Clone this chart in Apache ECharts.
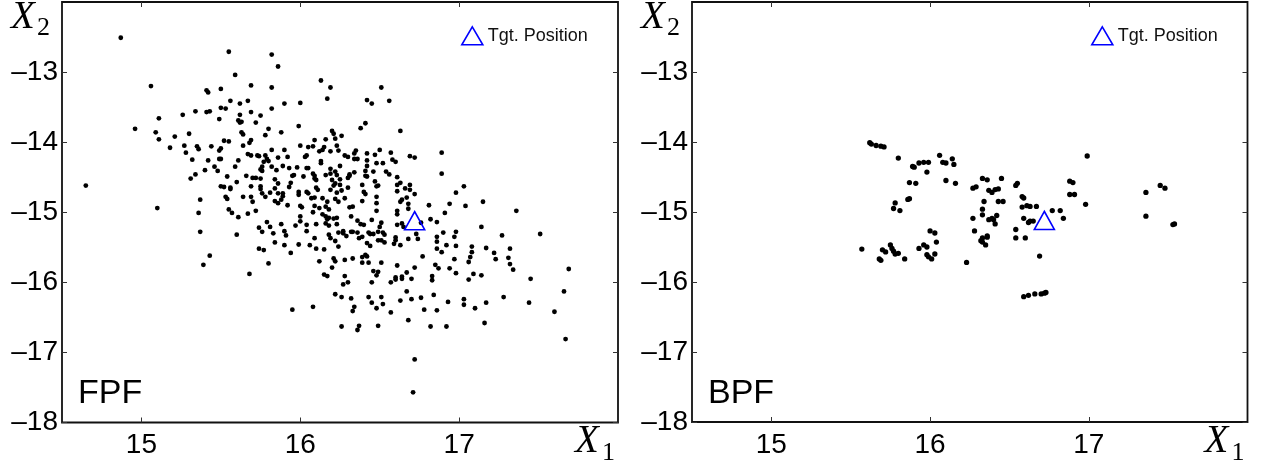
<!DOCTYPE html>
<html>
<head>
<meta charset="utf-8">
<title>FPF vs BPF particles</title>
<script src="https://cdn.jsdelivr.net/npm/echarts@6/dist/echarts.min.js"></script>
<style>
  html, body { margin: 0; padding: 0; background: #ffffff; }
  #chart { width: 1265px; height: 465px; }
</style>
</head>
<body>
<div id="chart"></div>
<script>
// ---- data -------------------------------------------------------------
const panelNames = ['FPF', 'BPF'];
const xRange = [14.5, 18];
const yRange = [-18, -12];
const xTicks = [15, 16, 17];
const yTicks = [-18, -17, -16, -15, -14, -13];
const targetName = 'Tgt. Position';
const targetPosition = [16.72, -15.12];

// forward particle filter cloud (X1, X2)
const fpfParticles = [
  [14.87,-12.51],[15.55,-12.71],[15.82,-12.75],[14.65,-14.62],[16.71,-17.57],
  [15.86,-12.92],[15.59,-13.04],[16.13,-13.12],[15.06,-13.20],[15.41,-13.26],[15.42,-13.29],[15.50,-13.24],[15.69,-13.19],[15.82,-13.22],[16.19,-13.22],
  [16.17,-13.38],[16.42,-13.40],[16.45,-13.45],[15.56,-13.41],[15.62,-13.45],[15.67,-13.41],[15.90,-13.45],[16.00,-13.44],[15.50,-13.51],[15.53,-13.52],
  [15.34,-13.56],[15.41,-13.57],[15.43,-13.56],[15.26,-13.61],[15.69,-13.57],[15.82,-13.52],[15.62,-13.61],[15.75,-13.62],[15.11,-13.66],[15.49,-13.67],
  [15.61,-13.69],[15.62,-13.72],[15.63,-13.71],[15.72,-13.72],[15.99,-13.77],[16.41,-13.73],[16.38,-13.80],[14.96,-13.81],[15.09,-13.86],[15.80,-13.81],
  [15.88,-13.86],[15.63,-13.86],[15.64,-13.89],[15.78,-13.90],[15.30,-13.88],[15.21,-13.92],[15.11,-13.96],[15.52,-13.98],[15.55,-13.99],[15.69,-13.97],
  [15.68,-14.01],[16.20,-13.84],[16.21,-13.88],[16.22,-13.95],[16.26,-13.91],[16.16,-13.96],[16.09,-13.97],[16.00,-14.05],[15.18,-14.08],[15.27,-14.05],
  [15.35,-14.06],[15.36,-14.10],[15.44,-14.06],[15.50,-14.09],[15.49,-14.12],[15.64,-14.05],[15.82,-14.11],[15.90,-14.11],[16.05,-14.07],[16.08,-14.06],
  [16.14,-14.11],[16.15,-14.07],[16.12,-14.13],[16.19,-14.13],[16.23,-14.05],[16.24,-14.12],[16.35,-14.12],[16.34,-14.16],[16.42,-14.16],[16.47,-14.18],
  [15.28,-14.15],[15.67,-14.17],[15.69,-14.19],[15.73,-14.19],[15.74,-14.20],[15.78,-14.19],[15.86,-14.22],[15.92,-14.21],[16.03,-14.21],[16.04,-14.19],
  [16.28,-14.19],[16.30,-14.21],[16.34,-14.24],[16.36,-14.24],[15.32,-14.25],[15.42,-14.26],[15.49,-14.24],[15.50,-14.24],[15.61,-14.26],[15.79,-14.24],
  [15.77,-14.28],[15.80,-14.27],[16.13,-14.27],[16.13,-14.30],[16.42,-14.26],[16.48,-14.30],[15.46,-14.35],[15.59,-14.35],[15.76,-14.35],[15.75,-14.39],
  [15.76,-14.41],[15.82,-14.35],[15.89,-14.34],[15.93,-14.37],[15.98,-14.36],[16.04,-14.37],[16.05,-14.37],[16.19,-14.38],[16.25,-14.34],[16.42,-14.34],
  [15.40,-14.40],[15.48,-14.41],[15.85,-14.40],[16.22,-14.42],[16.31,-14.46],[16.34,-14.43],[16.41,-14.41],[15.34,-14.46],[15.54,-14.49],[15.66,-14.48],
  [15.70,-14.51],[15.72,-14.51],[15.75,-14.52],[15.95,-14.48],[15.96,-14.47],[16.02,-14.49],[16.08,-14.45],[16.09,-14.48],[16.16,-14.47],[16.19,-14.45],
  [16.23,-14.47],[16.25,-14.53],[16.30,-14.51],[16.31,-14.48],[16.41,-14.48],[16.42,-14.49],[15.31,-14.52],[15.60,-14.57],[15.84,-14.53],[15.86,-14.59],
  [15.94,-14.58],[16.09,-14.52],[16.10,-14.54],[16.20,-14.54],[16.22,-14.59],[16.25,-14.61],[16.30,-14.65],[16.39,-14.61],[16.47,-14.56],[16.48,-14.63],
  [15.50,-14.63],[15.52,-14.64],[15.56,-14.65],[15.56,-14.67],[15.69,-14.63],[15.75,-14.63],[15.75,-14.67],[15.84,-14.66],[15.93,-14.64],[15.99,-14.71],
  [15.99,-14.75],[16.04,-14.71],[16.05,-14.73],[16.10,-14.65],[16.11,-14.68],[16.19,-14.68],[16.21,-14.62],[16.23,-14.72],[16.26,-14.69],[16.40,-14.71],
  [16.41,-14.74],[15.89,-14.73],[15.89,-14.77],[15.81,-14.72],[15.78,-14.78],[15.76,-14.73],[15.64,-14.78],[15.69,-14.78],[15.70,-14.85],[15.53,-14.78],
  [15.54,-14.81],[15.86,-14.73],[15.84,-14.84],[15.86,-14.87],[15.88,-14.82],[16.07,-14.80],[16.09,-14.79],[16.14,-14.80],[16.17,-14.85],[16.22,-14.81],
  [16.24,-14.85],[16.28,-14.80],[16.48,-14.78],[15.92,-14.90],[16.00,-14.91],[16.01,-14.93],[16.09,-14.91],[16.12,-14.94],[16.16,-14.92],[16.18,-14.96],
  [16.31,-14.93],[16.33,-14.92],[16.39,-14.84],[16.48,-14.87],[15.37,-14.82],[15.10,-14.94],[15.36,-15.01],[15.55,-14.96],[15.57,-15.01],[15.61,-15.07],
  [15.67,-15.02],[15.72,-14.98],[15.79,-15.14],[15.81,-15.21],[15.74,-15.22],[15.88,-15.17],[15.97,-15.19],[16.00,-15.06],[16.00,-15.13],[16.08,-15.00],
  [16.04,-15.18],[16.10,-15.17],[16.14,-15.03],[16.16,-15.06],[16.17,-15.10],[16.18,-15.08],[16.21,-15.09],[16.23,-15.08],[16.16,-15.16],[16.18,-15.19],
  [16.23,-15.17],[16.32,-15.06],[16.36,-15.12],[16.38,-15.17],[16.40,-15.18],[16.45,-15.11],[16.48,-14.98],
  [16.51,-13.22],[16.56,-13.41],[16.63,-13.84],[16.50,-14.11],[16.57,-14.15],[16.58,-14.25],[16.60,-14.28],[16.52,-14.30],[16.69,-14.20],[16.72,-14.22],
  [16.89,-14.15],[16.46,-14.42],[16.54,-14.42],[16.56,-14.46],[16.61,-14.50],[16.89,-14.45],[16.63,-14.58],[16.61,-14.61],[16.69,-14.61],[16.49,-14.62],
  [16.66,-14.66],[16.69,-14.68],[16.61,-14.70],[17.03,-14.63],[16.98,-14.72],[16.72,-14.74],[16.67,-14.79],[16.64,-14.82],[16.63,-14.85],[16.68,-14.88],
  [16.81,-14.90],[16.94,-14.88],[17.04,-14.91],[17.15,-14.85],[16.61,-14.98],[16.61,-15.03],[16.68,-14.95],[16.91,-15.01],[17.36,-14.98],[16.82,-15.10],
  [16.86,-15.14],[16.51,-15.15],[16.50,-15.21],[16.61,-15.18],[16.64,-15.16],[16.65,-15.21],[16.76,-15.15],[17.14,-15.21],
  [15.37,-15.28],[15.60,-15.32],[15.76,-15.28],[15.83,-15.30],[15.90,-15.27],[15.91,-15.33],[16.04,-15.27],[16.09,-15.37],[16.18,-15.32],[16.19,-15.37],
  [16.22,-15.41],[16.24,-15.29],[16.27,-15.27],[16.27,-15.30],[16.29,-15.34],[16.32,-15.28],[16.33,-15.28],[16.36,-15.29],[16.37,-15.37],[16.39,-15.35],
  [16.43,-15.29],[16.44,-15.31],[16.46,-15.31],[16.49,-15.28],[15.84,-15.43],[15.90,-15.47],[15.99,-15.46],[16.06,-15.47],[16.10,-15.52],[16.15,-15.53],
  [16.24,-15.49],[16.42,-15.44],[16.44,-15.48],[16.49,-15.40],[15.74,-15.52],[15.77,-15.54],[15.94,-15.58],[15.43,-15.62],[15.39,-15.75],[15.80,-15.73],
  [16.12,-15.70],[16.21,-15.66],[16.22,-15.70],[16.28,-15.68],[16.33,-15.66],[16.39,-15.64],[16.41,-15.61],[16.42,-15.63],[16.39,-15.72],[16.43,-15.72],
  [15.68,-15.88],[16.15,-15.89],[16.17,-15.91],[16.20,-15.79],[16.28,-15.91],[16.27,-16.03],[16.30,-16.00],[16.46,-15.84],[16.49,-15.85],[16.48,-15.90],
  [16.45,-16.00],[16.22,-16.17],[16.26,-16.21],[16.32,-16.23],[16.43,-16.21],[16.45,-16.29],[16.48,-16.37],[16.08,-16.35],[15.95,-16.39],[16.34,-16.35],
  [16.33,-16.41],[16.26,-16.63],[16.37,-16.62],[16.36,-16.68],[16.49,-16.62],
  [16.52,-15.29],[16.53,-15.32],[16.51,-15.40],[16.53,-15.43],[16.60,-15.36],[16.60,-15.40],[16.59,-15.45],[16.63,-15.47],[16.68,-15.38],[16.73,-15.31],
  [16.74,-15.38],[16.77,-15.63],[16.86,-15.35],[16.86,-15.42],[16.90,-15.29],[16.86,-15.52],[16.89,-15.57],[16.92,-15.47],[16.97,-15.35],[16.98,-15.28],
  [16.98,-15.48],[16.97,-15.67],[17.08,-15.49],[17.08,-15.57],[17.07,-15.64],[17.06,-15.71],[17.17,-15.51],[17.22,-15.58],[17.23,-15.67],[17.27,-15.33],
  [17.32,-15.52],[17.31,-15.65],[17.32,-15.74],[17.34,-15.82],[17.51,-15.31],[16.51,-15.72],[16.61,-15.76],[16.72,-15.79],[16.67,-15.86],[16.64,-15.92],
  [16.64,-15.95],[16.60,-15.93],[16.60,-15.96],[16.57,-16.00],[16.70,-15.95],[16.85,-15.75],[16.87,-15.80],[16.83,-15.91],[16.83,-15.97],[16.94,-15.80],
  [16.98,-15.87],[17.09,-15.88],[17.06,-15.96],[17.14,-15.90],[17.45,-15.95],[17.69,-15.81],[16.67,-16.13],[16.51,-16.21],[16.52,-16.31],[16.63,-16.26],
  [16.70,-16.24],[16.76,-16.22],[16.84,-16.18],[16.93,-16.28],[17.03,-16.24],[17.03,-16.32],[17.10,-16.37],[17.17,-16.29],[17.28,-16.21],[17.44,-16.29],
  [17.66,-16.13],[17.60,-16.42],[16.57,-16.43],[16.78,-16.39],[16.86,-16.40],[16.68,-16.54],[16.82,-16.63],[16.92,-16.63],[17.16,-16.58],[17.67,-16.81],
  [16.72,-17.10]
];

// backward particle filter cloud (X1, X2)
const bpfParticles = [
  [15.62,-14.01],[15.63,-14.03],[15.66,-14.05],[15.69,-14.06],[15.71,-14.07],[15.80,-14.23],[15.89,-14.35],[15.90,-14.36],[15.93,-14.30],[15.96,-14.29],
  [15.99,-14.29],[15.98,-14.43],[16.06,-14.19],[15.87,-14.58],[15.91,-14.59],[15.86,-14.82],[15.87,-14.81],[15.78,-14.87],[15.77,-14.95],[15.81,-14.98],
  [16.00,-15.27],[16.03,-15.30],
  [16.08,-14.29],[16.10,-14.30],[16.14,-14.24],[16.15,-14.32],[16.10,-14.55],[16.16,-14.59],[16.27,-14.66],[16.29,-14.64],[16.33,-14.52],[16.36,-14.54],
  [16.37,-14.69],[16.39,-14.72],[16.41,-14.68],[16.43,-14.67],[16.45,-14.52],[16.34,-14.85],[16.43,-14.85],[16.46,-14.85],[16.33,-14.96],[16.33,-15.04],
  [16.27,-15.09],[16.37,-15.11],[16.39,-15.09],[16.40,-15.11],[16.42,-15.05],[16.41,-15.17],[16.55,-14.59],[16.54,-14.62],[16.58,-14.78],[16.59,-14.80],
  [16.61,-14.91],[16.63,-14.92],[16.67,-14.92],[16.58,-14.93],[16.59,-15.09],[16.62,-15.15],[16.63,-15.13],[16.65,-15.13],[16.77,-14.98],[16.82,-14.98],
  [16.84,-15.09],[16.88,-14.56],[16.90,-14.58],[16.88,-14.75],[16.91,-14.75],[16.98,-14.89],[16.99,-14.20],[17.36,-14.72],[17.45,-14.62],[17.48,-14.66],
  [17.36,-15.06],[17.53,-15.18],[17.54,-15.17],[16.28,-15.27],[16.33,-15.37],[16.36,-15.34],[16.54,-15.25],[16.54,-15.37],[16.60,-15.37],
  [15.57,-15.53],[15.68,-15.67],[15.69,-15.69],[15.70,-15.54],[15.72,-15.57],[15.75,-15.47],[15.76,-15.52],[15.77,-15.56],[15.78,-15.60],[15.80,-15.59],
  [15.84,-15.67],[15.93,-15.52],[15.96,-15.47],[15.98,-15.50],[15.98,-15.61],[15.99,-15.64],[16.01,-15.67],[16.03,-15.60],[16.04,-15.43],
  [16.36,-15.36],[16.32,-15.41],[16.33,-15.43],[16.35,-15.47],[16.23,-15.72],[16.69,-15.63],[16.59,-16.21],[16.62,-16.19],[16.66,-16.17],[16.70,-16.17],
  [16.72,-16.16],[16.73,-16.15]
];

// ---- layout -------------------------------------------------------------
const grids = [
  { left: 62, top: 2, width: 556, height: 420.5 },
  { left: 692, top: 2, width: 555.5, height: 420 }
];
const particleSets = [fpfParticles, bpfParticles];
const particleSizes = [4.8, 5.3];

const frameColor = '#111111';
const tickStyle = { color: '#333333', width: 1 };
const labelFont = { color: '#000', fontFamily: '"Liberation Sans", Arial, sans-serif', fontSize: 28 };
const serif = '"Liberation Serif", "Times New Roman", serif';

function textEl(x, y, text, font) {
  return {
    type: 'text', x: x, y: y, silent: true,
    style: { text: text, font: font, fill: '#000',
             align: 'left', verticalAlign: 'middle', textAlign: 'left', textVerticalAlign: 'middle' }
  };
}

const option = {
  animation: false,
  backgroundColor: '#ffffff',
  grid: grids.map(g => Object.assign({
    show: true, borderColor: frameColor, borderWidth: 1.8, backgroundColor: '#ffffff',
    containLabel: false, outerBoundsMode: 'none'
  }, g)),
  xAxis: [],
  yAxis: [],
  series: [],
  legend: [],
  graphic: []
};

grids.forEach((g, i) => {
  // bottom axis with labels, top axis with ticks only
  option.xAxis.push({
    gridIndex: i, type: 'value', position: 'bottom', min: xRange[0], max: xRange[1],
    axisLine: { show: false }, splitLine: { show: false },
    axisTick: { show: true, inside: true, length: 5, lineStyle: tickStyle, customValues: xTicks },
    axisLabel: Object.assign({ customValues: xTicks, margin: 9, formatter: v => String(v) }, labelFont)
  });
  option.xAxis.push({
    gridIndex: i, type: 'value', position: 'top', min: xRange[0], max: xRange[1],
    axisLine: { show: false }, splitLine: { show: false },
    axisTick: { show: true, inside: true, length: 5, lineStyle: tickStyle, customValues: xTicks },
    axisLabel: { show: false }
  });
  option.yAxis.push({
    gridIndex: i, type: 'value', position: 'left', min: yRange[0], max: yRange[1],
    axisLine: { show: false }, splitLine: { show: false },
    axisTick: { show: true, inside: true, length: 5, lineStyle: tickStyle, customValues: yTicks },
    axisLabel: Object.assign({
      customValues: yTicks, margin: 4,
      formatter: v => (v < 0 ? '\u2013' : '') + Math.abs(v)
    }, labelFont)
  });
  option.yAxis.push({
    gridIndex: i, type: 'value', position: 'right', min: yRange[0], max: yRange[1],
    axisLine: { show: false }, splitLine: { show: false },
    axisTick: { show: true, inside: true, length: 5, lineStyle: tickStyle, customValues: yTicks },
    axisLabel: { show: false }
  });

  option.series.push({
    type: 'scatter', name: panelNames[i], xAxisIndex: 2 * i, yAxisIndex: 2 * i,
    data: particleSets[i], symbol: 'circle', symbolSize: particleSizes[i],
    itemStyle: { color: '#000000', opacity: 1 }, silent: true, z: 2
  });
  option.series.push({
    type: 'scatter', name: targetName, xAxisIndex: 2 * i, yAxisIndex: 2 * i,
    data: [targetPosition], symbol: 'triangle', symbolSize: [20, 18],
    itemStyle: { color: 'rgba(0,0,0,0)', borderColor: '#0000ff', borderWidth: 1.6, opacity: 1 },
    silent: true, z: 3
  });

  option.legend.push({
    data: [targetName], left: g.left + 399, top: 26, padding: 0,
    itemWidth: 21, itemHeight: 18, selectedMode: false,
    itemStyle: { color: 'rgba(0,0,0,0)', borderColor: '#0000ff', borderWidth: 1.6 },
    textStyle: { fontSize: 18, color: '#111', fontFamily: '"Liberation Sans", Arial, sans-serif' }
  });

  // panel caption and axis symbols X2 (top left) and X1 (bottom right)
  option.graphic.push(
    textEl(g.left + 16, 394, panelNames[i], '34px "Liberation Sans", Arial, sans-serif'),
    textEl(g.left - 51, 17.5, 'X', 'italic 39px ' + serif),
    textEl(g.left - 25, 28.5, '2', '26px ' + serif),
    textEl(g.left + g.width - 43, 441.7, 'X', 'italic 39px ' + serif),
    textEl(g.left + g.width - 16, 453.5, '1', '26px ' + serif)
  );
});

const chart = echarts.init(document.getElementById('chart'), null, { renderer: 'canvas' });
chart.setOption(option);
</script>
</body>
</html>
